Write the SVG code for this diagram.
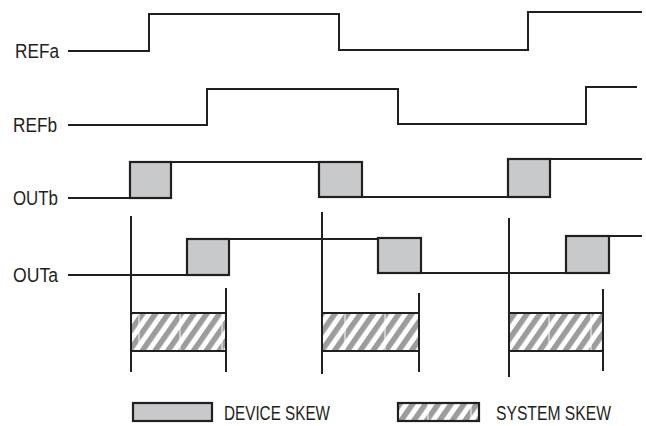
<svg xmlns="http://www.w3.org/2000/svg" width="646" height="426" viewBox="0 0 646 426">
<defs>
<pattern id="hatch" patternUnits="userSpaceOnUse" width="10.5" height="10.5" patternTransform="rotate(35)">
<rect x="0" y="0" width="10.5" height="10.5" fill="#ffffff"/>
<rect x="0" y="0" width="5.5" height="10.5" fill="#9b9c9e"/>
</pattern>
</defs>
<style>
.sig{fill:none;stroke:#231f20;stroke-width:2;stroke-linejoin:miter}
.dev{fill:#c8c9cb;stroke:#231f20;stroke-width:2.2}
.sys{fill:url(#hatch);stroke:none}
.edge{stroke:#231f20;stroke-width:2.2}
.vl{stroke:#231f20;stroke-width:2}
.seam{stroke:#ffffff;stroke-width:1}
.lbl{font-family:"Liberation Sans",Arial,sans-serif;font-size:19.5px;fill:#231f20}
</style>
<rect width="646" height="426" fill="#ffffff"/>
<g id="REFa">
<text class="lbl" x="15" y="58" textLength="44" lengthAdjust="spacingAndGlyphs">REFa</text>
<path class="sig" d="M68,51 H149 V14 H339 V50 H528 V12 H642"/>
</g>
<g id="REFb">
<text class="lbl" x="13" y="132" textLength="44" lengthAdjust="spacingAndGlyphs">REFb</text>
<path class="sig" d="M68,125 H207 V89 H398 V124 H586 V87 H637"/>
</g>
<g id="OUTb">
<text class="lbl" x="13" y="205" textLength="45" lengthAdjust="spacingAndGlyphs">OUTb</text>
<path class="sig" d="M68,198 H130 M171,162 H319 M362,197 H508 M550,159 H642"/>
<rect class="dev" x="130" y="162" width="41" height="36"/>
<rect class="dev" x="319" y="162" width="43" height="35"/>
<rect class="dev" x="508" y="159" width="42" height="38"/>
</g>
<g id="OUTa">
<text class="lbl" x="13" y="282" textLength="45" lengthAdjust="spacingAndGlyphs">OUTa</text>
<path class="sig" d="M68,275 H187 M229,239 H378 M421,273 H566 M609,236 H642"/>
<rect class="dev" x="187" y="239" width="42" height="36"/>
<rect class="dev" x="378" y="238" width="43" height="35"/>
<rect class="dev" x="566" y="236" width="43" height="37"/>
</g>
<g id="skew1">
<rect class="sys" x="131" y="313" width="95" height="38"/>
<path class="seam" d="M139,314 V350 M180,314 V350 M222,314 V350"/>
<path class="edge" d="M131,313 H226 M131,351 H226"/>
</g>
<g id="skew2">
<rect class="sys" x="322" y="313" width="97" height="38"/>
<path class="seam" d="M345,314 V350 M385,314 V350"/>
<path class="edge" d="M322,313 H419 M322,351 H419"/>
</g>
<g id="skew3">
<rect class="sys" x="509" y="313" width="94" height="38"/>
<path class="seam" d="M549,314 V350 M591,314 V350"/>
<path class="edge" d="M509,313 H603 M509,351 H603"/>
</g>
<g id="connectors">
<path class="vl" d="M131,216 V372 M226,288 V372 M322,212 V374 M419,293 V372 M509,218 V377 M603,289 V371"/>
</g>
<g id="legend-device">
<rect class="dev" x="133" y="403" width="79" height="18"/>
<text class="lbl" x="224" y="420" textLength="106" lengthAdjust="spacingAndGlyphs">DEVICE SKEW</text>
</g>
<g id="legend-system">
<rect class="sys" x="398" y="403" width="81" height="18"/>
<path class="seam" d="M428,404 V420 M471,404 V420"/>
<rect x="398" y="403" width="81" height="18" fill="none" stroke="#231f20" stroke-width="2.2"/>
<text class="lbl" x="496" y="420" textLength="115" lengthAdjust="spacingAndGlyphs">SYSTEM SKEW</text>
</g>
</svg>
